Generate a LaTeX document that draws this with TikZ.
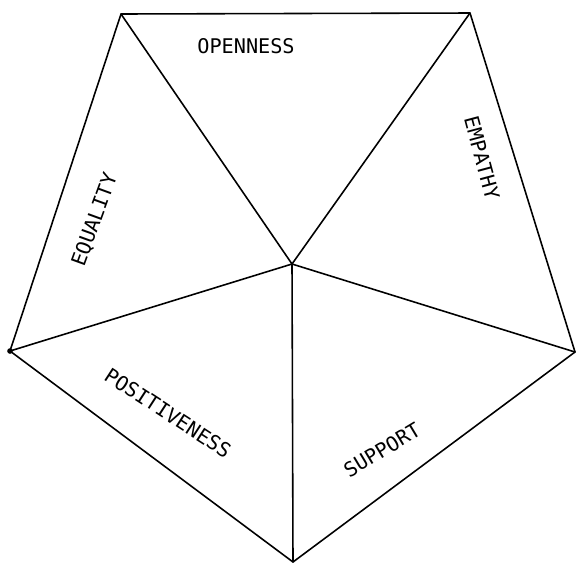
\documentclass[tikz,border=0pt]{standalone}
\usepackage{fontspec}
\newfontfamily\letterfont{DejaVu Sans Mono}
\begin{document}
\begin{tikzpicture}[
	x=0.02cm, y=-0.02cm,
	vertex/.style={ coordinate },
	edge/.style={ line width=0.9pt, line join=round, line cap=round },
	word/.style={ inner sep=0pt, font=\letterfont\fontsize{11.5}{13}\selectfont }
]
\useasboundingbox (0,0) rectangle (577,566);

\node at (121,14) (v1) [vertex] {};
\node at (470,13) (v2) [vertex] {};
\node at (575,352) (v3) [vertex] {};
\node at (293,562) (v4) [vertex] {};
\node at (10,351) (v5) [vertex] {};
\node at (292,264) (c) [vertex] {};

\draw[edge] (v1) -- (v2) -- (v3) -- (v4) -- (v5) -- cycle;
\foreach \v in {v1,v2,v3,v4,v5}
	\draw[edge] (c) -- (\v);
\fill (v5) circle (1.6pt);

\node at (246,46) (open) [word] {OPENNESS};
\node at (482,158) (emp) [word, rotate=-75] {EMPATHY};
\node at (95,220) (equ) [word, rotate=70] {EQUALITY};
\node at (168,413) (pos) [word, rotate=-33] {POSITIVENESS};
\node at (382,450) (sup) [word, rotate=31] {SUPPORT};

\end{tikzpicture}
\end{document}
